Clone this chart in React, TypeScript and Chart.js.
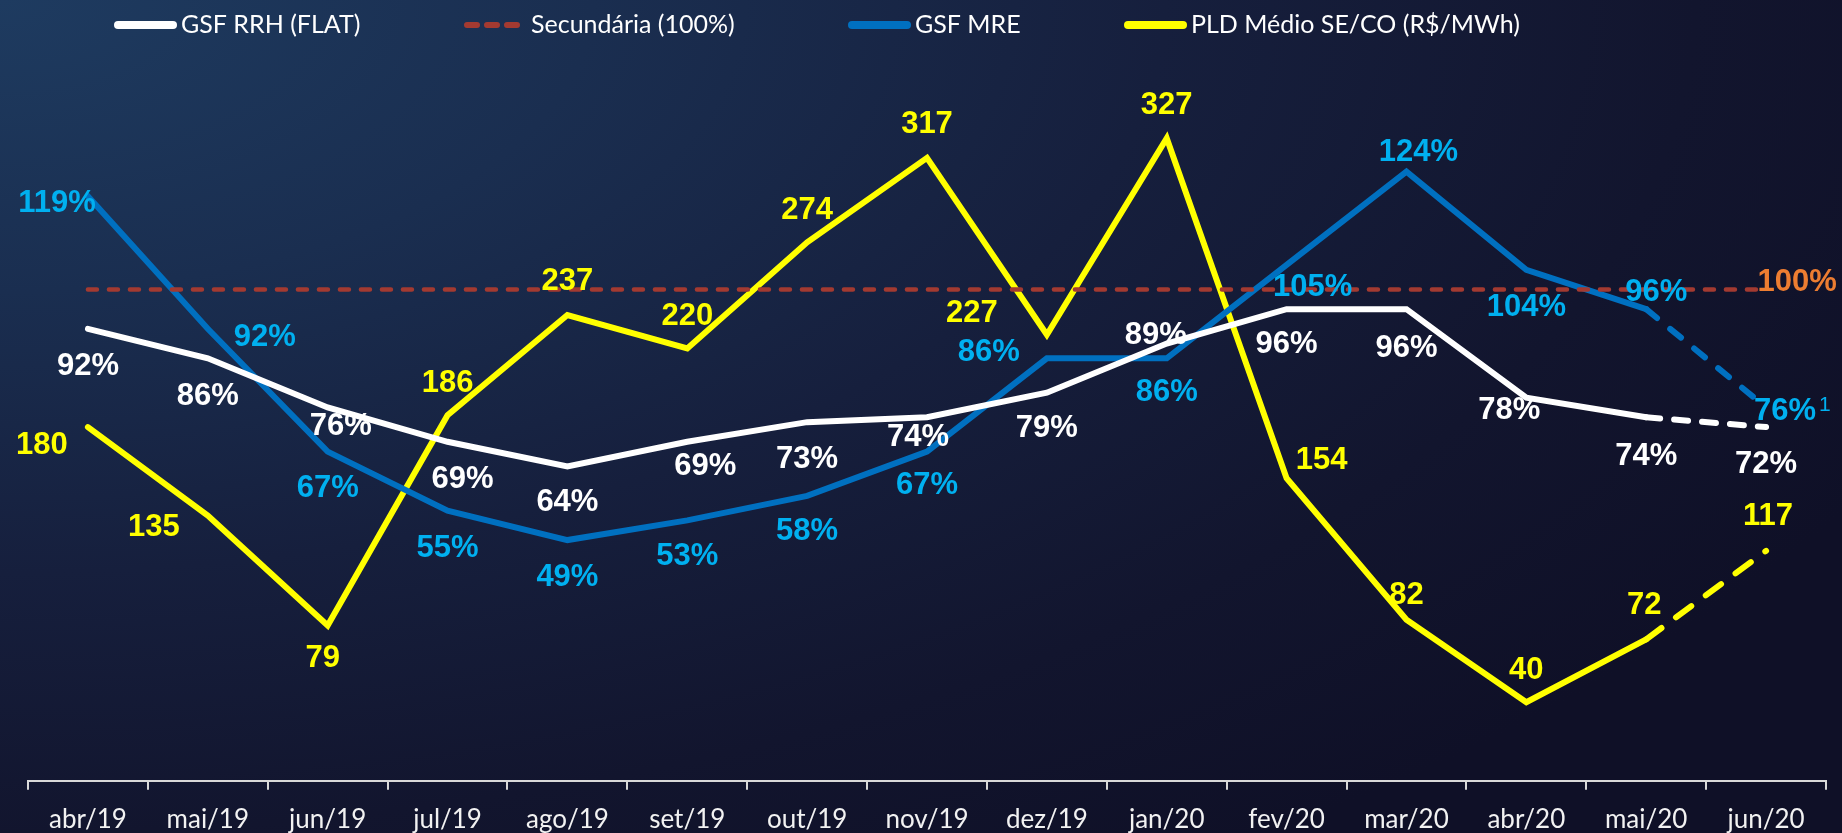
import React, { useEffect, useRef } from "react";
import { Chart, registerables } from "chart.js";

Chart.register(...registerables);

const categories = ["abr/19", "mai/19", "jun/19", "jul/19", "ago/19", "set/19", "out/19", "nov/19", "dez/19", "jan/20", "fev/20", "mar/20", "abr/20", "mai/20", "jun/20"];
const gsfRrh = [92, 86, 76, 69, 64, 69, 73, 74, 79, 89, 96, 96, 78, 74, 72];
const secundaria = [100, 100, 100, 100, 100, 100, 100, 100, 100, 100, 100, 100, 100, 100, 100];
const gsfMre = [119, 92, 67, 55, 49, 53, 58, 67, 86, 86, 105, 124, 104, 96, 76];
const pld = [180, 135, 79, 186, 237, 220, 274, 317, 227, 327, 154, 82, 40, 72, 117];

const legendLabels = ["GSF RRH (FLAT)", "Secundária (100%)", "GSF MRE", "PLD Médio SE/CO (R$/MWh)"];

// label placement offsets (dx, dy) relative to each point
const rrhOffsets = [[0, 38], [0, 38], [13, 19], [15, 38], [0, 36], [18, 25], [0, 37], [-9, 20], [0, 36], [-11, -8], [0, 35], [0, 39], [-17, 13], [0, 39], [0, 37]];
const mreOffsets = [[-31, 7], [57, 9], [0, 37], [0, 38], [0, 37], [0, 36], [0, 36], [0, 34], [-58, -6], [0, 34], [26, 23], [12, -19], [0, 38], [10, -17], [19, 4]];
const pldOffsets = [[-46, 18], [-54, 12], [-5, 33], [0, -32], [0, -34], [0, -32], [0, -32], [0, -33], [-75, -21], [0, -33], [35, -18], [0, -24], [0, -32], [-2, -34], [2, -34]];

const WHITE = "#ffffff";
const RED = "#a33a31";
const BLUE = "#0070c0";
const BLUE_LABEL = "#00b0f0";
const YELLOW = "#ffff00";
const ORANGE = "#ed7d31";

const labelPlugin = {
  id: "valueLabels",
  afterDatasetsDraw(chart: any) {
    const ctx = chart.ctx;
    ctx.save();
    ctx.font = "bold 31px 'Liberation Sans', Arial, sans-serif";
    ctx.textAlign = "center";
    ctx.textBaseline = "middle";
    const drawSet = (idx: number, values: number[], offsets: number[][], color: string, fmt: (v: number) => string) => {
      const meta = chart.getDatasetMeta(idx);
      meta.data.forEach((pt: any, i: number) => {
        const [dx, dy] = offsets[i];
        ctx.fillStyle = color;
        ctx.fillText(fmt(values[i]), pt.x + dx, pt.y + dy);
      });
    };
    drawSet(0, gsfRrh, rrhOffsets, WHITE, (v) => v + "%");
    drawSet(2, gsfMre, mreOffsets, BLUE_LABEL, (v) => v + "%");
    drawSet(3, pld, pldOffsets, YELLOW, (v) => String(v));
    // superscript on last MRE
    const mreMeta = chart.getDatasetMeta(2);
    const last = mreMeta.data[mreMeta.data.length - 1];
    const lo = mreOffsets[mreOffsets.length - 1];
    const w = ctx.measureText(gsfMre[gsfMre.length - 1] + "%").width;
    ctx.font = "21px 'Liberation Sans', Arial, sans-serif";
    ctx.textAlign = "left";
    ctx.fillStyle = BLUE_LABEL;
    ctx.fillText("1", last.x + lo[0] + w / 2 + 3, last.y + lo[1] - 6);
    // 100% label
    const secMeta = chart.getDatasetMeta(1);
    const sl = secMeta.data[secMeta.data.length - 1];
    ctx.font = "bold 31px 'Liberation Sans', Arial, sans-serif";
    ctx.textAlign = "center";
    ctx.fillStyle = ORANGE;
    ctx.fillText(secundaria[secundaria.length - 1] + "%", sl.x + 31, sl.y - 7);
    ctx.restore();
  },
};

const legendPlugin = {
  id: "customLegend",
  afterDraw(chart: any) {
    const ctx = chart.ctx;
    const starts = [114, 464, 848, 1124];
    const colors = [WHITE, RED, BLUE, YELLOW];
    const y = 25;
    ctx.save();
    ctx.lineCap = "round";
    starts.forEach((sx, i) => {
      ctx.strokeStyle = colors[i];
      if (i === 1) {
        ctx.lineWidth = 6;
        ctx.beginPath();
        for (let k = 0; k < 3; k++) {
          const a = sx + 3 + k * 20;
          ctx.moveTo(a, y);
          ctx.lineTo(a + 10, y);
        }
        ctx.stroke();
      } else {
        ctx.lineWidth = 8;
        ctx.beginPath();
        ctx.moveTo(sx + 4, y);
        ctx.lineTo(sx + 59, y);
        ctx.stroke();
      }
      ctx.fillStyle = "#ffffff";
      ctx.font = "25px Lato, sans-serif";
      ctx.textAlign = "left";
      ctx.textBaseline = "middle";
      ctx.fillText(legendLabels[i], sx + 67, y);
    });
    ctx.restore();
  },
};

export default function App() {
  const ref = useRef<HTMLCanvasElement | null>(null);
  useEffect(() => {
    document.body.style.margin = "0";
    if (!ref.current) return;
    const lastDash = (dash: number[]) => (c: any) => (c.p0DataIndex === categories.length - 2 ? dash : undefined);
    const chart = new Chart(ref.current, {
      type: "line",
      data: {
        labels: categories,
        datasets: [
          {
            label: legendLabels[0],
            data: gsfRrh,
            borderColor: WHITE,
            borderWidth: 6,
            pointRadius: 0,
            borderCapStyle: "round",
            yAxisID: "y",
            segment: { borderDash: lastDash([14, 14]) },
          },
          {
            label: legendLabels[1],
            data: secundaria,
            borderColor: RED,
            borderWidth: 4.5,
            borderDash: [9, 12],
            pointRadius: 0,
            borderCapStyle: "round",
            yAxisID: "y",
          },
          {
            label: legendLabels[2],
            data: gsfMre,
            borderColor: BLUE,
            borderWidth: 6,
            pointRadius: 0,
            borderCapStyle: "round",
            yAxisID: "y",
            segment: { borderDash: lastDash([14, 17]) },
          },
          {
            label: legendLabels[3],
            data: pld,
            borderColor: YELLOW,
            borderWidth: 6,
            pointRadius: 0,
            borderCapStyle: "round",
            yAxisID: "y1",
            segment: { borderDash: lastDash([19, 18]) },
          },
        ],
      } as any,
      options: {
        animation: false,
        responsive: true,
        maintainAspectRatio: false,
        layout: { padding: { left: 28, right: 16, top: 93, bottom: -16 } },
        plugins: { legend: { display: false }, tooltip: { enabled: false } },
        scales: {
          x: {
            type: "category",
            offset: true,
            grid: { offset: true, drawOnChartArea: false, drawTicks: true, tickLength: 9, color: "#d9d9d9", lineWidth: 2 },
            border: { display: true, color: "#d9d9d9", width: 2 },
            ticks: { color: "#f2f2f2", font: { family: "Lato", size: 26 }, padding: 14, maxRotation: 0, autoSkip: false },
          },
          y: { display: false, min: 0, max: 140 },
          y1: { display: false, min: 0, max: 350, position: "right" },
        },
      } as any,
      plugins: [labelPlugin, legendPlugin],
    });
    return () => chart.destroy();
  }, []);
  return (
    <div
      style={{
        position: "fixed",
        left: 0,
        top: 0,
        width: "1842px",
        height: "833px",
        background:
          "radial-gradient(ellipse 115% 125% at 0% 0%, #1e3b60 0%, #1a2e50 28%, #161f3d 55%, #12152e 80%, #0f1027 100%)",
      }}
    >
      <canvas ref={ref} />
    </div>
  );
}
